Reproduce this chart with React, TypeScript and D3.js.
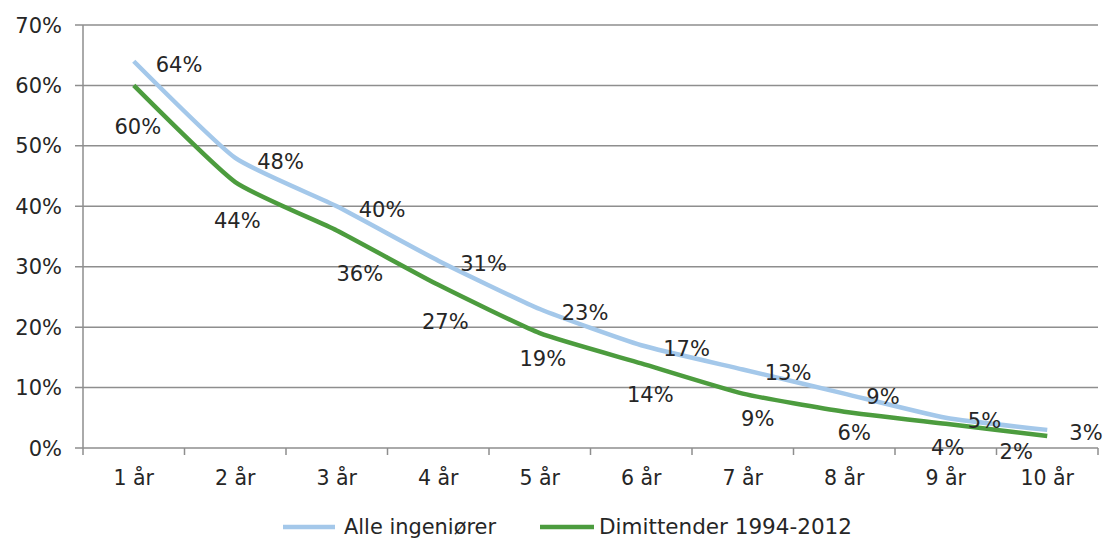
import React from "react";
import * as d3 from "d3";

const years = ["1 år", "2 år", "3 år", "4 år", "5 år", "6 år", "7 år", "8 år", "9 år", "10 år"];
const alleIngeniorer = [64, 48, 40, 31, 23, 17, 13, 9, 5, 3];
const dimittender = [60, 44, 36, 27, 19, 14, 9, 6, 4, 2];
const yTicks = [0, 10, 20, 30, 40, 50, 60, 70];

// manual nudges for the green labels (Excel had them dragged around a bit)
const greenLabelDx = [4, 2, 23, 7, 3, 9, 15, 10, 2, -31];
const greenLabelDy = [41, 38, 43, 37, 25, 31, 25, 21, 24, 16];

const BLUE = "#a4c8ea";
const GREEN = "#4c9c3e";
const INK = "#262626";
const FONT = "'DejaVu Sans', Verdana, sans-serif";

const App = () => {
  const width = 1110;
  const height = 538;
  const left = 83;
  const right = 1098;
  const top = 25;
  const bottom = 448;

  const x = d3.scaleBand().domain(years).range([left, right]);
  const y = d3.scaleLinear().domain([0, 70]).range([bottom, top]);
  const cx = (i: number) => (x(years[i]) || 0) + x.bandwidth() / 2;

  const line = d3
    .line<number>()
    .x((_, i) => cx(i))
    .y((d) => y(d))
    .curve(d3.curveCardinal.tension(0.5));

  const boundaries = years.map((yr) => x(yr) || 0).concat([right]);

  return (
    <svg
      width={width}
      height={height}
      style={{ position: "absolute", left: 0, top: 0, background: "#fff" }}
      fontFamily={FONT}
    >
      {/* gridlines + y labels */}
      {yTicks.map((t) => (
        <g key={t}>
          <line x1={left - 8} x2={right} y1={y(t)} y2={y(t)} stroke="#8e8e8e" strokeWidth={1.5} />
          <text x={62} y={y(t)} dy="0.36em" textAnchor="end" fontSize={21} fill={INK}>
            {t}%
          </text>
        </g>
      ))}
      <line x1={left} x2={left} y1={top} y2={bottom} stroke="#8e8e8e" strokeWidth={1.5} />
      {boundaries.map((b, i) => (
        <line key={i} x1={b} x2={b} y1={bottom} y2={bottom + 7} stroke="#8e8e8e" strokeWidth={1.5} />
      ))}
      {years.map((yr, i) => (
        <text key={yr} x={cx(i)} y={485} textAnchor="middle" fontSize={20.5} fill={INK}>
          {yr}
        </text>
      ))}

      <path d={line(alleIngeniorer) || ""} fill="none" stroke={BLUE} strokeWidth={4.5} />
      <path d={line(dimittender) || ""} fill="none" stroke={GREEN} strokeWidth={4.5} />

      {alleIngeniorer.map((v, i) => (
        <text key={"a" + i} x={cx(i) + 22} y={y(v) + 3} dy="0.36em" fontSize={21} fill={INK}>
          {v}%
        </text>
      ))}
      {dimittender.map((v, i) => (
        <text
          key={"d" + i}
          x={cx(i) + greenLabelDx[i]}
          y={y(v) + greenLabelDy[i]}
          dy="0.36em"
          textAnchor="middle"
          fontSize={21}
          fill={INK}
        >
          {v}%
        </text>
      ))}

      {/* legend */}
      <line x1={283} x2={335} y1={527} y2={527} stroke={BLUE} strokeWidth={4.5} />
      <text x={344} y={534} fontSize={21} fill={INK} textLength={152} lengthAdjust="spacingAndGlyphs">
        Alle ingeniører
      </text>
      <line x1={540} x2={594} y1={527} y2={527} stroke={GREEN} strokeWidth={4.5} />
      <text x={599} y={534} fontSize={21} fill={INK} textLength={253} lengthAdjust="spacingAndGlyphs">
        Dimittender 1994-2012
      </text>
    </svg>
  );
};

export default App;
